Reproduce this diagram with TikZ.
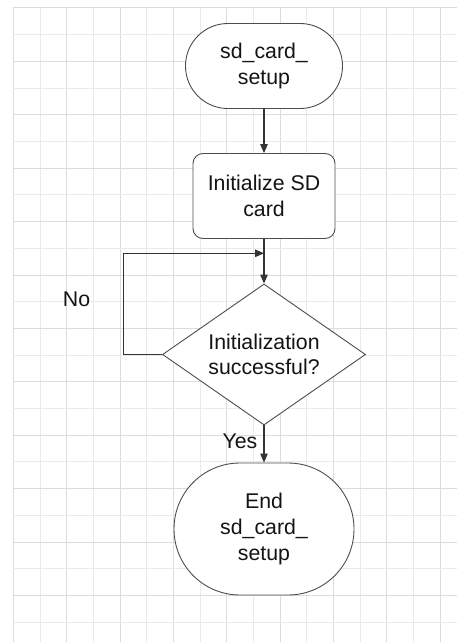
\documentclass[tikz,border=0pt]{standalone}
\usepackage{fontspec}
\setmainfont{Liberation Sans}
\usetikzlibrary{shapes.geometric,arrows.meta}

\definecolor{gridmajor}{HTML}{DCDCDC}
\definecolor{gridminor}{HTML}{EAEAEA}
\definecolor{outline}{HTML}{4D4D4D}
\definecolor{wire}{HTML}{333333}
\definecolor{ink}{HTML}{141414}

\tikzset{
  lbl/.style={font=\fontsize{21.3}{25.6}\selectfont, text=ink, align=center},
  terminal/.style={lbl, draw=outline, fill=white, line width=0.9pt, inner sep=0pt},
  process/.style={lbl, draw=outline, fill=white, line width=0.9pt, rounded corners=10pt,
    minimum width=142pt, minimum height=85pt, inner sep=0pt},
  decision/.style={lbl, diamond, draw=outline, fill=white, line width=0.9pt, inner sep=0pt,
    shape aspect=1.44, minimum width=203pt, minimum height=141pt},
  arr/.style={draw=wire, line width=1.1pt, -{Triangle[length=9pt,width=7.5pt]}},
}

\begin{document}
\begin{tikzpicture}[x=1pt,y=-1pt]
  \useasboundingbox (0,0) rectangle (457,642);
  \fill[white] (0,0) rectangle (457,642);

  % background grid, every second line slightly darker
  \foreach \i in {0,...,16} {
    \pgfmathsetmacro{\gx}{13.33+26.67*\i}
    \ifodd\i
      \draw[gridminor, line width=1pt] (\gx,8) -- (\gx,642);
    \else
      \draw[gridmajor, line width=1pt] (\gx,8) -- (\gx,642);
    \fi
  }
  \foreach \j in {0,...,23} {
    \pgfmathsetmacro{\gy}{8+26.7*\j}
    \ifodd\j
      \draw[gridminor, line width=1pt] (13.33,\gy) -- (457,\gy);
    \else
      \draw[gridmajor, line width=1pt] (13.33,\gy) -- (457,\gy);
    \fi
  }

  % flowchart nodes
  \node[terminal, minimum width=157pt, minimum height=85pt, rounded corners=42.4pt]
    (start) at (264,66) {sd\_card\_\\setup};
  \node[process] (init) at (264,196) {Initialize SD\\card};
  \node[decision] (check) at (264,354.5) {Initialization\\successful?};
  \node[terminal, minimum width=180pt, minimum height=132pt, rounded corners=65.9pt]
    (finish) at (264,529) {End\\sd\_card\_\\setup};

  \coordinate (merge) at (264,253.3);
  \coordinate (loopx) at (123.3,354.5);

  % connectors
  \draw[arr] (start) -- (init);
  \draw[arr] (init) -- (check);
  \draw[arr] (check.west) -- (loopx) |- (merge);
  \draw[arr] (check) -- (finish);

  % branch labels
  \node[lbl] (nolbl) at (76.5,299) {No};
  \node[lbl] (yeslbl) at (240,441) {Yes};
\end{tikzpicture}
\end{document}
